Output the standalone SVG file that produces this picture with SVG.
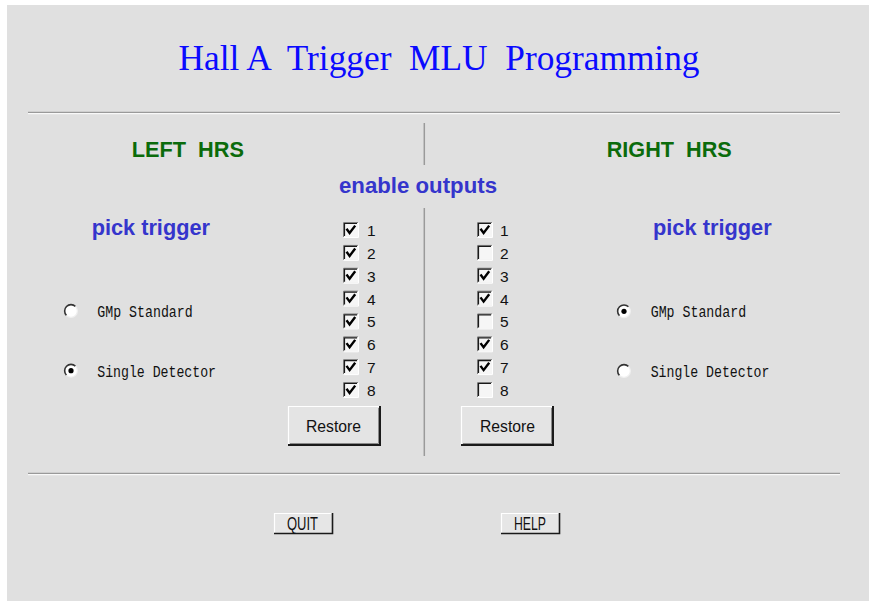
<svg xmlns="http://www.w3.org/2000/svg" xmlns:xlink="http://www.w3.org/1999/xlink" width="869" height="601" viewBox="0 0 869 601">
<style>
  text { white-space: pre; }
  .title { font-family: "Liberation Serif", serif; font-size: 35.5px; fill: #0a0aff; }
  .hrs { font-family: "Liberation Sans", Arial, sans-serif; font-weight: bold; font-size: 21.5px; fill: #0b6b0b; }
  .head { font-family: "Liberation Sans", Arial, sans-serif; font-weight: bold; font-size: 21.5px; fill: #3535cc; }
  .mono { font-family: "Liberation Mono", "DejaVu Sans Mono", monospace; font-size: 16px; fill: #111; }
  .num { font-family: "Liberation Sans", Arial, sans-serif; font-size: 15.5px; fill: #111; }
  .btn { font-family: "Liberation Sans", Arial, sans-serif; font-size: 16px; fill: #111; }
  .btn2 { font-family: "Liberation Sans", Arial, sans-serif; font-size: 18px; fill: #111; }
  .sep { stroke: #9a9a9a; stroke-width: 1.3; }
  .sepw { stroke: #ffffff; stroke-width: 1; }
  .vline { stroke: #9a9a9a; stroke-width: 1.5; }
</style>
<defs>
  <g id="cb">
    <rect x="0" y="0" width="15" height="15" fill="#f6f6f6"/>
    <path d="M0.5 15 V0.5 H15" fill="none" stroke="#808080" stroke-width="1"/>
    <path d="M1.5 14 V1.5 H14" fill="none" stroke="#1a1a1a" stroke-width="1.2"/>
    <path d="M0.5 15.5 H15.5 V0.5" fill="none" stroke="#ffffff" stroke-width="1"/>
  </g>
  <path id="chk" d="M3.5 6.8 L6.6 11 L12.2 3.6" fill="none" stroke="#000" stroke-width="2.4" stroke-linejoin="miter"/>
  <g id="radio">
    <circle cx="0" cy="0" r="6.3" fill="#ffffff"/>
    <path d="M4.5 -4.5 A6.3 6.3 0 0 0 -4.5 4.5" fill="none" stroke="#333" stroke-width="1.6"/>
    <path d="M4.5 -4.5 A6.3 6.3 0 0 1 -4.5 4.5" fill="none" stroke="#f0f0f0" stroke-width="1.2"/>
  </g>
  <circle id="dot" cx="0" cy="0" r="2.6" fill="#000"/>
</defs>

<rect x="0" y="0" width="869" height="601" fill="#ffffff"/>
<rect x="7" y="5" width="862" height="596" fill="#e0e0e0"/>

<g id="title"><text class="title" x="178.5" y="69.5" textLength="521" lengthAdjust="spacingAndGlyphs">Hall A  Trigger  MLU  Programming</text></g>

<g id="connectors">
  <line class="sep" x1="28" y1="112.3" x2="840" y2="112.3"/>
  <line class="sepw" x1="28" y1="113.7" x2="840" y2="113.7"/>
  <line class="sep" x1="28" y1="473.3" x2="840" y2="473.3"/>
  <line class="sepw" x1="28" y1="474.7" x2="840" y2="474.7"/>
  <line class="vline" x1="424.3" y1="123" x2="424.3" y2="165"/>
  <line class="vline" x1="424.3" y1="208" x2="424.3" y2="456"/>
</g>

<g id="left-hrs"><text class="hrs" x="131.7" y="157.3" textLength="112.3" lengthAdjust="spacingAndGlyphs">LEFT  HRS</text></g>
<g id="right-hrs"><text class="hrs" x="606.7" y="157.3" textLength="125" lengthAdjust="spacingAndGlyphs">RIGHT  HRS</text></g>
<g id="enable-outputs"><text class="head" x="339" y="193" textLength="158" lengthAdjust="spacingAndGlyphs">enable outputs</text></g>
<g id="left-pick"><text class="head" x="91.7" y="235" textLength="118.3" lengthAdjust="spacingAndGlyphs">pick trigger</text></g>
<g id="right-pick"><text class="head" x="653" y="235" textLength="118.7" lengthAdjust="spacingAndGlyphs">pick trigger</text></g>

<g id="left-radio-gmp">
  <use xlink:href="#radio" x="71" y="311"/>
  <text class="mono" x="97.3" y="316.7" textLength="95.4" lengthAdjust="spacingAndGlyphs">GMp Standard</text>
</g>
<g id="left-radio-single">
  <use xlink:href="#radio" x="71" y="370.7"/>
  <use xlink:href="#dot" x="71" y="370.7"/>
  <text class="mono" x="97.3" y="376.7" textLength="118.7" lengthAdjust="spacingAndGlyphs">Single Detector</text>
</g>
<g id="right-radio-gmp">
  <use xlink:href="#radio" x="624" y="311.3"/>
  <use xlink:href="#dot" x="624" y="311.3"/>
  <text class="mono" x="650.7" y="316.7" textLength="95.4" lengthAdjust="spacingAndGlyphs">GMp Standard</text>
</g>
<g id="right-radio-single">
  <use xlink:href="#radio" x="624" y="371"/>
  <text class="mono" x="650.7" y="376.7" textLength="118.7" lengthAdjust="spacingAndGlyphs">Single Detector</text>
</g>

<g id="left-outputs">
  <g id="l1"><use xlink:href="#cb" x="343" y="222"/><use xlink:href="#chk" x="343" y="222"/><text class="num" x="367" y="236">1</text></g>
  <g id="l2"><use xlink:href="#cb" x="343" y="244.9"/><use xlink:href="#chk" x="343" y="244.9"/><text class="num" x="367" y="258.9">2</text></g>
  <g id="l3"><use xlink:href="#cb" x="343" y="267.7"/><use xlink:href="#chk" x="343" y="267.7"/><text class="num" x="367" y="281.7">3</text></g>
  <g id="l4"><use xlink:href="#cb" x="343" y="290.6"/><use xlink:href="#chk" x="343" y="290.6"/><text class="num" x="367" y="304.6">4</text></g>
  <g id="l5"><use xlink:href="#cb" x="343" y="313.4"/><use xlink:href="#chk" x="343" y="313.4"/><text class="num" x="367" y="327.4">5</text></g>
  <g id="l6"><use xlink:href="#cb" x="343" y="336.3"/><use xlink:href="#chk" x="343" y="336.3"/><text class="num" x="367" y="350.3">6</text></g>
  <g id="l7"><use xlink:href="#cb" x="343" y="359.1"/><use xlink:href="#chk" x="343" y="359.1"/><text class="num" x="367" y="373.1">7</text></g>
  <g id="l8"><use xlink:href="#cb" x="343" y="382"/><use xlink:href="#chk" x="343" y="382"/><text class="num" x="367" y="396">8</text></g>
</g>

<g id="right-outputs">
  <g id="r1"><use xlink:href="#cb" x="477" y="222"/><use xlink:href="#chk" x="477" y="222"/><text class="num" x="500" y="236">1</text></g>
  <g id="r2"><use xlink:href="#cb" x="477" y="244.9"/><text class="num" x="500" y="258.9">2</text></g>
  <g id="r3"><use xlink:href="#cb" x="477" y="267.7"/><use xlink:href="#chk" x="477" y="267.7"/><text class="num" x="500" y="281.7">3</text></g>
  <g id="r4"><use xlink:href="#cb" x="477" y="290.6"/><use xlink:href="#chk" x="477" y="290.6"/><text class="num" x="500" y="304.6">4</text></g>
  <g id="r5"><use xlink:href="#cb" x="477" y="313.4"/><text class="num" x="500" y="327.4">5</text></g>
  <g id="r6"><use xlink:href="#cb" x="477" y="336.3"/><use xlink:href="#chk" x="477" y="336.3"/><text class="num" x="500" y="350.3">6</text></g>
  <g id="r7"><use xlink:href="#cb" x="477" y="359.1"/><use xlink:href="#chk" x="477" y="359.1"/><text class="num" x="500" y="373.1">7</text></g>
  <g id="r8"><use xlink:href="#cb" x="477" y="382"/><text class="num" x="500" y="396">8</text></g>
</g>

<g id="left-restore">
  <rect x="288" y="406" width="93" height="40" fill="#e4e4e4"/>
  <path d="M288.5 445 V406.5 H380" fill="none" stroke="#ffffff" stroke-width="1.2"/>
  <path d="M288 445 H380 V406" fill="none" stroke="#1a1a1a" stroke-width="2"/>
  <path d="M290 443.5 H378.5 V408" fill="none" stroke="#8a8a8a" stroke-width="1"/>
  <text class="btn" x="306" y="431.7" textLength="55" lengthAdjust="spacingAndGlyphs">Restore</text>
</g>
<g id="right-restore">
  <rect x="461" y="406" width="93" height="40" fill="#e4e4e4"/>
  <path d="M461.5 445 V406.5 H553" fill="none" stroke="#ffffff" stroke-width="1.2"/>
  <path d="M461 445 H553 V406" fill="none" stroke="#1a1a1a" stroke-width="2"/>
  <path d="M463 443.5 H551.5 V408" fill="none" stroke="#8a8a8a" stroke-width="1"/>
  <text class="btn" x="480" y="431.7" textLength="55" lengthAdjust="spacingAndGlyphs">Restore</text>
</g>

<g id="quit">
  <rect x="274" y="513" width="59" height="21" fill="#e6e6e6"/>
  <path d="M274.5 533 V513.5 H332" fill="none" stroke="#ffffff" stroke-width="1.2"/>
  <path d="M274 533.5 H332.5 V513" fill="none" stroke="#1a1a1a" stroke-width="1.6"/>
  <text class="btn2" x="287" y="530" textLength="31" lengthAdjust="spacingAndGlyphs">QUIT</text>
</g>
<g id="help">
  <rect x="501" y="513" width="59" height="21" fill="#e6e6e6"/>
  <path d="M501.5 533 V513.5 H559" fill="none" stroke="#ffffff" stroke-width="1.2"/>
  <path d="M501 533.5 H559.5 V513" fill="none" stroke="#1a1a1a" stroke-width="1.6"/>
  <text class="btn2" x="514" y="530" textLength="32" lengthAdjust="spacingAndGlyphs">HELP</text>
</g>
</svg>
